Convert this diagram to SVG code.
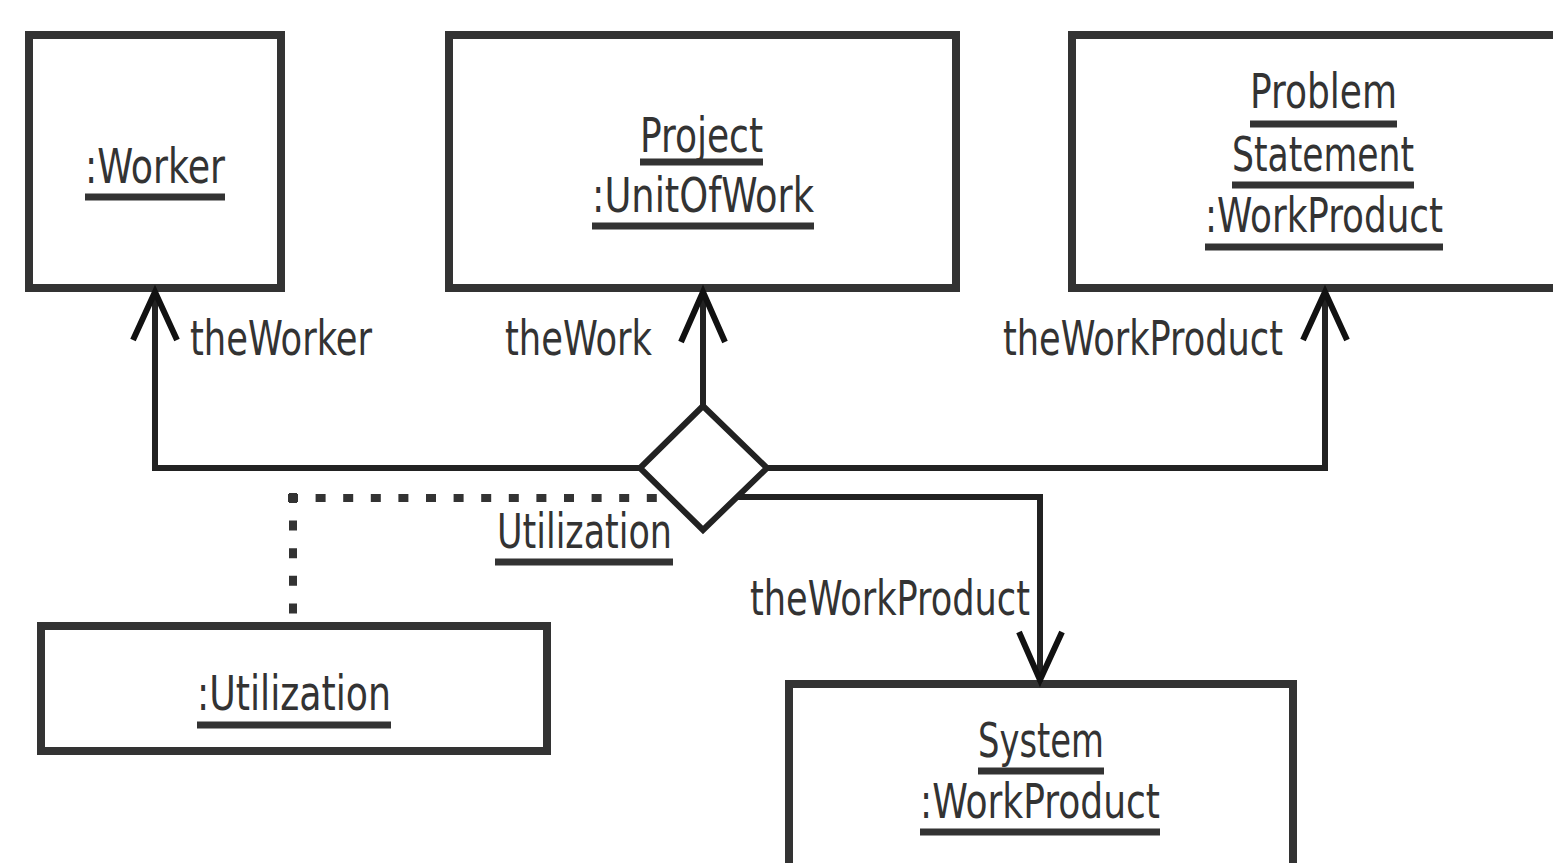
<svg xmlns="http://www.w3.org/2000/svg" width="1553" height="863" viewBox="0 0 1553 863">
  <style>
    .box { fill: #fff; stroke: #333; stroke-width: 8; }
    .line { fill: none; stroke: #222; stroke-width: 6; }
    .dots { fill: none; stroke: #333; stroke-width: 8; stroke-dasharray: 10 17.6; }
    .head { fill: none; stroke: #111; stroke-width: 6; stroke-linejoin: miter; }
    .txt { font-family: "Liberation Sans Narrow", "DejaVu Sans Condensed", "Liberation Sans", sans-serif; font-size: 48px; fill: #333; }
    .ul { stroke: #333; stroke-width: 7; }
  </style>

  <!-- object boxes -->
  <g id="worker">
    <rect class="box" x="29" y="35" width="252" height="253"/>
    <text class="txt" x="85" y="183" textLength="140" lengthAdjust="spacingAndGlyphs">:Worker</text>
    <line class="ul" x1="85" y1="197" x2="225" y2="197"/>
  </g>

  <g id="project">
    <rect class="box" x="449" y="35" width="507" height="253"/>
    <text class="txt" x="640" y="152" textLength="123" lengthAdjust="spacingAndGlyphs">Project</text>
    <line class="ul" x1="640" y1="162" x2="763" y2="162"/>
    <text class="txt" x="592" y="212" textLength="222" lengthAdjust="spacingAndGlyphs">:UnitOfWork</text>
    <line class="ul" x1="592" y1="226" x2="814" y2="226"/>
  </g>

  <g id="problem-statement">
    <rect class="box" x="1072" y="35" width="520" height="253"/>
    <text class="txt" x="1250" y="108" textLength="147" lengthAdjust="spacingAndGlyphs">Problem</text>
    <line class="ul" x1="1250" y1="124" x2="1397" y2="124"/>
    <text class="txt" x="1232" y="171" textLength="182" lengthAdjust="spacingAndGlyphs">Statement</text>
    <line class="ul" x1="1232" y1="185" x2="1414" y2="185"/>
    <text class="txt" x="1205" y="232" textLength="238" lengthAdjust="spacingAndGlyphs">:WorkProduct</text>
    <line class="ul" x1="1205" y1="247" x2="1443" y2="247"/>
  </g>

  <g id="utilization">
    <rect class="box" x="41" y="626" width="506" height="125"/>
    <text class="txt" x="197" y="710" textLength="194" lengthAdjust="spacingAndGlyphs">:Utilization</text>
    <line class="ul" x1="197" y1="725" x2="391" y2="725"/>
  </g>

  <g id="system">
    <rect class="box" x="789" y="684" width="504" height="220"/>
    <text class="txt" x="978" y="757" textLength="126" lengthAdjust="spacingAndGlyphs">System</text>
    <line class="ul" x1="978" y1="771" x2="1104" y2="771"/>
    <text class="txt" x="920" y="818" textLength="240" lengthAdjust="spacingAndGlyphs">:WorkProduct</text>
    <line class="ul" x1="920" y1="832" x2="1160" y2="832"/>
  </g>

  <!-- n-ary association: diamond, links and role names -->
  <g id="connectors">
    <polygon class="line" points="703,406 767,468 703,530 640,468"/>

    <polyline class="line" points="640,468 155,468 155,292"/>
    <polyline class="head" points="133,340 155,292 177,340"/>
    <text class="txt" x="190" y="355" textLength="182" lengthAdjust="spacingAndGlyphs">theWorker</text>

    <line class="line" x1="703" y1="406" x2="703" y2="292"/>
    <polyline class="head" points="681,342 703,292 725,342"/>
    <text class="txt" x="505" y="355" textLength="147" lengthAdjust="spacingAndGlyphs">theWork</text>

    <polyline class="line" points="767,468 1325,468 1325,292"/>
    <polyline class="head" points="1303,340 1325,292 1347,340"/>
    <text class="txt" x="1003" y="355" textLength="280" lengthAdjust="spacingAndGlyphs">theWorkProduct</text>

    <polyline class="line" points="737,497 1040,497 1040,682"/>
    <polyline class="head" points="1019,632 1040,680 1062,632"/>
    <text class="txt" x="750" y="615" textLength="280" lengthAdjust="spacingAndGlyphs">theWorkProduct</text>

    <!-- link object attachment (dotted) -->
    <path class="dots" d="M288,498 H668"/>
    <path class="dots" d="M293,493 V622"/>
    <text class="txt" x="497" y="548" textLength="175" lengthAdjust="spacingAndGlyphs">Utilization</text>
    <line class="ul" x1="495" y1="562" x2="673" y2="562"/>
  </g>
</svg>
